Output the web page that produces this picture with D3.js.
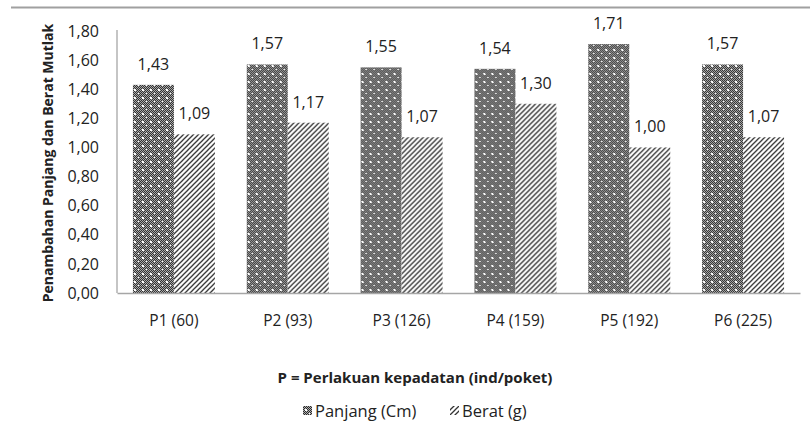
<!DOCTYPE html>
<html><head><meta charset="utf-8">
<script src="https://cdn.jsdelivr.net/npm/d3@7"></script>
<style>html,body{margin:0;padding:0;background:#fff;} svg{display:block;font-family:"Open Sans",sans-serif;}</style>
</head><body>
<script>
const categories = ["P1 (60)", "P2 (93)", "P3 (126)", "P4 (159)", "P5 (192)", "P6 (225)"];
const seriesNames = ["Panjang (Cm)", "Berat (g)"];
const panjang = [1.43, 1.57, 1.55, 1.54, 1.71, 1.57];
const berat = [1.09, 1.17, 1.07, 1.30, 1.00, 1.07];
const yTicks = [0, 0.2, 0.4, 0.6, 0.8, 1.0, 1.2, 1.4, 1.6, 1.8];
const yTitle = "Penambahan Panjang dan Berat Mutlak";
const xTitle = "P = Perlakuan kepadatan (ind/poket)";

const W = 810, H = 437;
const svg = d3.select("body").append("svg").attr("width", W).attr("height", H);
const defs = svg.append("defs");

// pattern: dotted dark checker with white dots
const p1 = defs.append("pattern").attr("id", "patP").attr("patternUnits", "userSpaceOnUse")
  .attr("width", 8).attr("height", 8);
p1.append("rect").attr("width", 8).attr("height", 8).attr("fill", "#b0b0b0");
let chk = "";
for (let i = 0; i < 8; i++) for (let j = 0; j < 8; j++) if ((i + j) % 2 === 0) chk += `M${i},${j}h1v1h-1z`;
p1.append("path").attr("d", chk).attr("fill", "#2a2a2a");
p1.append("rect").attr("x", 1).attr("y", 1).attr("width", 2).attr("height", 2).attr("fill", "#fff");
p1.append("rect").attr("x", 5).attr("y", 5).attr("width", 1).attr("height", 1).attr("fill", "#fff");

// pattern: diagonal lines
const p2 = defs.append("pattern").attr("id", "patB").attr("patternUnits", "userSpaceOnUse")
  .attr("width", 5).attr("height", 5);
p2.append("rect").attr("width", 5).attr("height", 5).attr("fill", "#fff");
p2.append("path").attr("d", "M-1,6L6,-1M-1,1L1,-1M4,6L6,4").attr("stroke", "#333").attr("stroke-width", 1.3);

const fills = ["url(#patP)", "url(#patB)"];

// top rule
svg.append("line").attr("x1", 11).attr("x2", 810).attr("y1", 7.5).attr("y2", 7.5)
  .attr("stroke", "#a0a0a0").attr("stroke-width", 2);

const x0 = d3.scaleBand().domain(categories).range([117, 800]).paddingInner(0.28).paddingOuter(0.14);
const x1 = d3.scaleBand().domain(seriesNames).range([0, x0.bandwidth()]);
const y = d3.scaleLinear().domain([0, 1.8]).range([293, 31]);
const fmt = v => d3.format(".2f")(v).replace(".", ",");

// y axis
const yAxis = svg.append("g").attr("transform", "translate(117,0)")
  .call(d3.axisLeft(y).tickValues(yTicks).tickSize(0).tickPadding(18).tickFormat(fmt));
yAxis.select(".domain").attr("stroke", "#a6a6a6").attr("stroke-width", 1.3).attr("d", `M0,${y(1.8)-1}V${y(0)}`);
yAxis.selectAll("text").attr("font-size", 16).attr("fill", "#222").attr("font-family", "Open Sans");

// bars
const data = categories.map((c, i) => ({ c, vals: [panjang[i], berat[i]] }));
const g = svg.append("g");
const grp = g.selectAll("g.grp").data(data).join("g").attr("transform", d => `translate(${x0(d.c)},0)`);
grp.selectAll("rect").data(d => d.vals.map((v, k) => ({ v, k }))).join("rect")
  .attr("x", d => x1(seriesNames[d.k])).attr("width", x1.bandwidth())
  .attr("y", d => y(d.v)).attr("height", d => y(0) - y(d.v))
  .attr("fill", d => fills[d.k]);
grp.selectAll("text").data(d => d.vals.map((v, k) => ({ v, k }))).join("text")
  .attr("x", d => x1(seriesNames[d.k]) + x1.bandwidth() / 2)
  .attr("y", d => y(d.v) - 15)
  .attr("text-anchor", "middle").attr("font-size", 16).attr("fill", "#222")
  .text(d => fmt(d.v));

// x axis
const xAxis = svg.append("g").attr("transform", "translate(0,293)")
  .call(d3.axisBottom(x0).tickSize(0).tickPadding(22));
xAxis.select(".domain").attr("stroke", "#a6a6a6").attr("stroke-width", 1.3);
xAxis.selectAll("text").attr("font-size", 15.5).attr("fill", "#222").attr("font-family", "Open Sans");

// titles
svg.append("text").attr("transform", "translate(53,163) rotate(-90)")
  .attr("text-anchor", "middle").attr("font-size", 14).attr("font-weight", "bold").attr("fill", "#222")
  .text(yTitle);
svg.append("text").attr("x", 415).attr("y", 383)
  .attr("text-anchor", "middle").attr("font-size", 15).attr("font-weight", "bold").attr("fill", "#222")
  .text(xTitle);

// legend
const legX = [303, 450];
const leg = svg.append("g");
seriesNames.forEach((s, k) => {
  leg.append("rect").attr("x", legX[k]).attr("y", 406).attr("width", 9).attr("height", 9).attr("fill", fills[k]);
  leg.append("text").attr("x", legX[k] + 12).attr("y", 417).attr("font-size", 16.5).attr("fill", "#222").text(s);
});
</script>
</body></html>
